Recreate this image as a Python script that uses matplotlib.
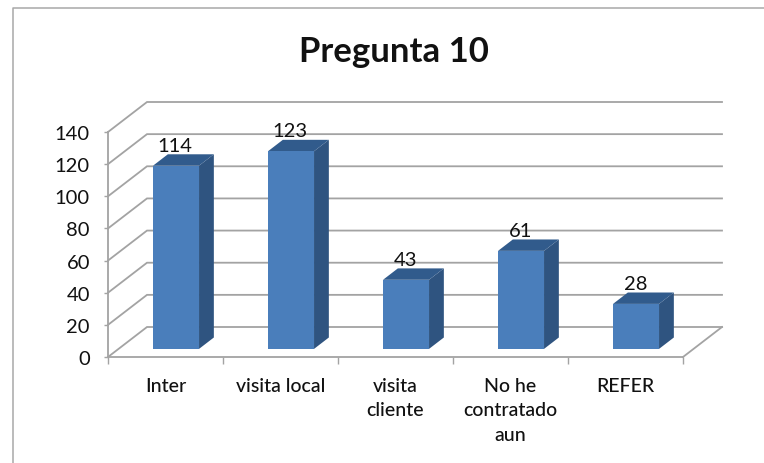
"""Pregunta 10: pseudo-3D column chart drawn on one axes."""
import matplotlib
matplotlib.use('Agg')
import matplotlib.pyplot as plt
from matplotlib.lines import Line2D
from matplotlib.patches import Polygon

CATEGORIES = ['Inter', 'visita local', 'visita\ncliente', 'No he\ncontratado\naun', 'REFER']
VALUES = [114, 123, 43, 61, 28]
Y_TICKS = [0, 20, 40, 60, 80, 100, 120, 140]

W, H = 764, 464
LEFT, RIGHT, TOP, BOTTOM = 108, 683, 133, 358

# Depth of the box, in data units of the front plane.
DX = 39 / 115
DY = 30 / (225 / 140)
BAR_W = 0.40
Z_FRONT, Z_BACK = 0.27, 0.65

GRID = '#a3a3a3'
FRONT = '#4a7ebb'
SIDE = '#2f5480'
TOPC = '#315b8c'

plt.rcParams['font.family'] = ['Lato', 'DejaVu Sans']

fig = plt.figure(figsize=(W / 100, H / 100), dpi=100, facecolor='white')
ax = fig.add_axes([LEFT / W, 1 - BOTTOM / H, (RIGHT - LEFT) / W, (BOTTOM - TOP) / H])
ax.set_xlim(0, 5)
ax.set_ylim(0, 140)
ax.patch.set_visible(False)


def proj(x, v, z):
    return x + z * DX, v + z * DY


# Floor and wall lines.
for v in Y_TICKS:
    x0, y0 = proj(0, v, 0)
    x1, y1 = proj(0, v, 1)
    x2, y2 = proj(5, v, 1)
    ax.plot([x0, x1, x2], [y0, y1, y2], color=GRID, lw=1.3, clip_on=False, zorder=1, solid_joinstyle='miter')
x0, y0 = proj(5, 0, 0)
x1, y1 = proj(5, 0, 1)
ax.plot([x0, x1], [y0, y1], color=GRID, lw=1.3, clip_on=False, zorder=1)

# Bars.
for i, v in enumerate(VALUES):
    a = i + 0.5 - BAR_W / 2
    b = a + BAR_W
    front = [proj(a, 0, Z_FRONT), proj(b, 0, Z_FRONT), proj(b, v, Z_FRONT), proj(a, v, Z_FRONT)]
    side = [proj(b, 0, Z_FRONT), proj(b, 0, Z_BACK), proj(b, v, Z_BACK), proj(b, v, Z_FRONT)]
    top = [proj(a, v, Z_FRONT), proj(b, v, Z_FRONT), proj(b, v, Z_BACK), proj(a, v, Z_BACK)]
    ax.add_patch(Polygon(side, closed=True, fc=SIDE, ec='none', clip_on=False, zorder=3))
    ax.add_patch(Polygon(top, closed=True, fc=TOPC, ec='none', clip_on=False, zorder=3))
    ax.add_patch(Polygon(front, closed=True, fc=FRONT, ec='none', clip_on=False, zorder=4))
    ax.annotate(str(v), proj(i + 0.5, v, Z_FRONT), xytext=(-0.5, 8.5), textcoords='offset points',
                ha='center', va='bottom', fontsize=14.5, color='#111111', zorder=5)

for side_name in ['top', 'right']:
    ax.spines[side_name].set_visible(False)
for side_name in ['left', 'bottom']:
    ax.spines[side_name].set_color(GRID)
    ax.spines[side_name].set_linewidth(1.3)

ax.set_yticks(Y_TICKS)
ax.tick_params(axis='y', length=3, width=1, color=GRID, labelsize=14.5, labelcolor='#111111', pad=10)
ax.set_xticks(range(6))
ax.set_xticklabels([])
ax.tick_params(axis='x', length=5, width=1, color=GRID)
ax.set_xticks([i + 0.5 for i in range(5)], minor=True)
ax.set_xticklabels(CATEGORIES, minor=True, fontsize=14, color='#111111', fontweight='medium',
                   linespacing=1.52)
ax.tick_params(axis='x', which='minor', length=0, pad=14.5)

fig.text(394 / W, 1 - 52 / H, 'Pregunta 10', ha='center', va='center', fontsize=25, fontweight='bold', color='#111111')

# Chart frame: only the top and left edges show, both run off the picture.
fig.add_artist(Line2D([12.5 / W, 12.5 / W, 1], [0, 1 - 9 / H, 1 - 9 / H], color='#a8a8a8', lw=1.1,
                      transform=fig.transFigure))

plt.savefig('out.png', dpi=100)
